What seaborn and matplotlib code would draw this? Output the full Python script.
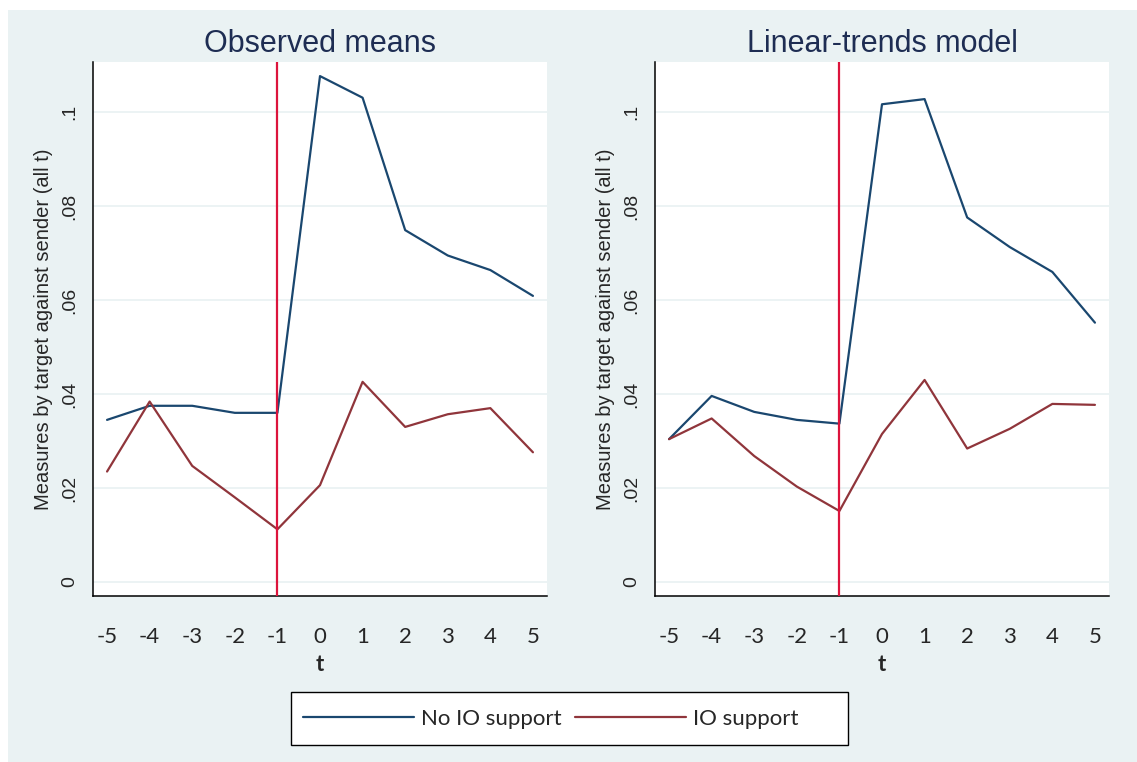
import numpy as np
import pandas as pd
import matplotlib.pyplot as plt
import seaborn as sns
from matplotlib.patches import Rectangle

# event time
t = [-5, -4, -3, -2, -1, 0, 1, 2, 3, 4, 5]

# observed means
obs_no_io = [0.0345, 0.0375, 0.0375, 0.0360, 0.0360, 0.1077, 0.1031, 0.0749, 0.0695, 0.0664, 0.0609]
obs_io = [0.0235, 0.0384, 0.0247, 0.0180, 0.0112, 0.0206, 0.0426, 0.0330, 0.0357, 0.0370, 0.0276]

# linear-trends model
lin_no_io = [0.0304, 0.0396, 0.0362, 0.0345, 0.0337, 0.1017, 0.1028, 0.0776, 0.0713, 0.0660, 0.0552]
lin_io = [0.0304, 0.0348, 0.0268, 0.0203, 0.0151, 0.0315, 0.0430, 0.0284, 0.0326, 0.0379, 0.0377]

panel_titles = ['Observed means', 'Linear-trends model']
series_labels = ['No IO support', 'IO support']
y_ticks = [0, 0.02, 0.04, 0.06, 0.08, 0.1]
y_tick_labels = ['0', '.02', '.04', '.06', '.08', '.1']
event_line = -1

navy = '#1A476F'
maroon = '#90353B'
crimson = '#DC143C'
bg = '#EAF2F3'

sns.set_style('white')
plt.rcParams['font.family'] = ['Liberation Sans', 'DejaVu Sans']

W, H = 1137, 762
fig = plt.figure(figsize=(W / 100, H / 100), dpi=100, facecolor='white')
fig.patches.append(Rectangle((8 / W, 0), 1 - 8 / W, 1 - 10 / H, transform=fig.transFigure,
                             facecolor=bg, edgecolor='none', zorder=-10))

panels = [(obs_no_io, obs_io), (lin_no_io, lin_io)]
lefts = [93, 655]

for left, title, (no_io, io) in zip(lefts, panel_titles, panels):
    ax = fig.add_axes([left / W, 1 - 596 / H, 454 / W, 534 / H])
    df = pd.DataFrame({
        't': t + t,
        'value': no_io + io,
        'group': [series_labels[0]] * len(t) + [series_labels[1]] * len(t),
    })
    sns.lineplot(data=df, x='t', y='value', hue='group', hue_order=series_labels,
                 palette=[navy, maroon], linewidth=1.6, ax=ax, legend=False)
    ax.axvline(event_line, color=crimson, lw=1.6, zorder=5)

    ax.set_xlim(-5.33, 5.33)
    ax.set_ylim(-0.003, 0.1107)
    ax.set_xticks(t)
    ax.set_xticklabels([str(v) for v in t], fontfamily='Lato', fontsize=16)
    ax.set_yticks(y_ticks)
    ax.set_yticklabels(y_tick_labels, fontsize=14, rotation=90, va='center')
    ax.tick_params(axis='x', length=6.5, width=1.2, color='#222222', pad=16)
    ax.tick_params(axis='y', length=6.5, width=1.2, color='#222222', pad=4)

    ax.yaxis.grid(True, color=bg, lw=1.3)
    ax.xaxis.grid(False)
    for s in ['top', 'right']:
        ax.spines[s].set_visible(False)
    for s in ['left', 'bottom']:
        ax.spines[s].set_color('black')
        ax.spines[s].set_linewidth(1.1)

    ax.set_title(title, fontsize=22, color='#1E2D53', pad=7)
    ax.set_ylabel('Measures by target against sender (all t)', fontsize=14.5, labelpad=6)
    ax.set_xlabel('t', fontfamily='Lato', fontweight='bold', fontsize=16, labelpad=5)

handles = fig.axes[0].lines[:2]
fig.patches.append(Rectangle((291 / W, 1 - 745 / H), 557 / W, 53 / H, transform=fig.transFigure,
                             facecolor='white', edgecolor='black', lw=1.0, zorder=1))
fig.legend(handles, series_labels, loc='center left', bbox_to_anchor=(303 / W, 1 - 718.7 / H),
           ncol=2, frameon=False, borderpad=0, borderaxespad=0, handlelength=5.0,
           handletextpad=0.3, columnspacing=0.6, prop={'family': 'Lato', 'size': 16})

plt.savefig('out.png', dpi=100, facecolor=fig.get_facecolor())
